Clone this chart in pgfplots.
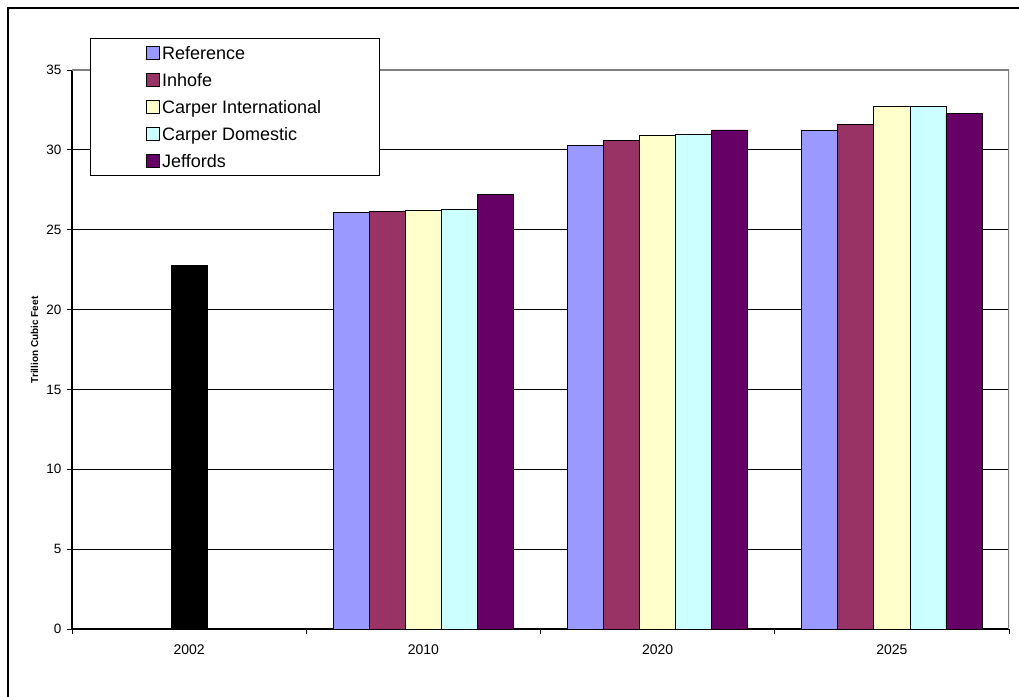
\documentclass[border=0pt]{standalone}
\usepackage{fontspec}
\setmainfont{Liberation Sans}
\usepackage{pgfplots}
\pgfplotsset{compat=1.18}
\definecolor{cref}{HTML}{9999FF}
\definecolor{cinh}{HTML}{993366}
\definecolor{cci}{HTML}{FFFFCC}
\definecolor{ccd}{HTML}{CCFFFF}
\definecolor{cjef}{HTML}{660066}
\begin{document}
\begin{tikzpicture}[x=1pt,y=1pt]
\useasboundingbox (-72,-67) rectangle (947,629);
\draw[line width=1.3pt] (-64,-100) rectangle (1100,621);
\begin{axis}[
  at={(0,0)}, anchor=south west,
  scale only axis, width=937pt, height=559pt,
  xmin=-0.5, xmax=3.5, ymin=0, ymax=35,
  /pgf/number format/assume math mode=true,
  ytick={0,5,...,35},
  xtick={0,1,2,3}, xticklabels={2002,2010,2020,2025},
  minor xtick={-0.5,0.5,1.5,2.5,3.5},
  major x tick style={draw=none},
  minor x tick style={black, line width=0.8pt},
  ytick style={black, line width=0.8pt},
  minor tick length=5pt, major tick length=5pt,
  tick align=outside,
  axis lines*=left,
  axis line style={-, black, line width=1.2pt},
  ymajorgrids, grid style={black, line width=0.8pt},
  yticklabel style={font=\fontsize{13.5}{15}\selectfont, xshift=-2pt},
  xticklabel style={font=\fontsize{14}{16}\selectfont, yshift=-7pt},
  ylabel={Trillion Cubic Feet},
  ylabel style={at={(axis description cs:-0.04,0.517)}, anchor=center, font=\bfseries\fontsize{10}{12}\selectfont},
  ybar, bar width=0.154,
  legend style={at={(axis description cs:0.0192,1.0572)}, anchor=north west,
    draw=black, line width=0.8pt, fill=white, font=\fontsize{18}{21}\selectfont,
    inner xsep=56pt, inner ysep=5.5pt, row sep=9pt,
    nodes={inner ysep=1pt, inner xsep=2pt, text height=15pt, text depth=1pt}},
  legend cell align=left,
  legend image code/.code={\draw[#1, draw=black, line width=0.8pt] (0pt,-6.5pt) rectangle (13pt,6.5pt);},
]
\addplot[fill=black, draw=black, bar shift=0, forget plot] coordinates {(0,22.8)};
\addplot[fill=cref, draw=black, line width=0.7pt, bar shift=-0.308] coordinates {(1,26.1) (2,30.3) (3,31.2)};
\addplot[fill=cinh, draw=black, line width=0.7pt, bar shift=-0.154] coordinates {(1,26.15) (2,30.6) (3,31.6)};
\addplot[fill=cci, draw=black, line width=0.7pt, bar shift=0] coordinates {(1,26.2) (2,30.9) (3,32.75)};
\addplot[fill=ccd, draw=black, line width=0.7pt, bar shift=0.154] coordinates {(1,26.3) (2,31.0) (3,32.75)};
\addplot[fill=cjef, draw=black, line width=0.7pt, bar shift=0.308] coordinates {(1,27.2) (2,31.25) (3,32.27)};
\legend{Reference,Inhofe,Carper International,Carper Domestic,Jeffords}
\draw[gray, line width=1.2pt] (rel axis cs:0,1) -- (rel axis cs:1,1) -- (rel axis cs:1,0);
\end{axis}
\end{tikzpicture}
\end{document}
